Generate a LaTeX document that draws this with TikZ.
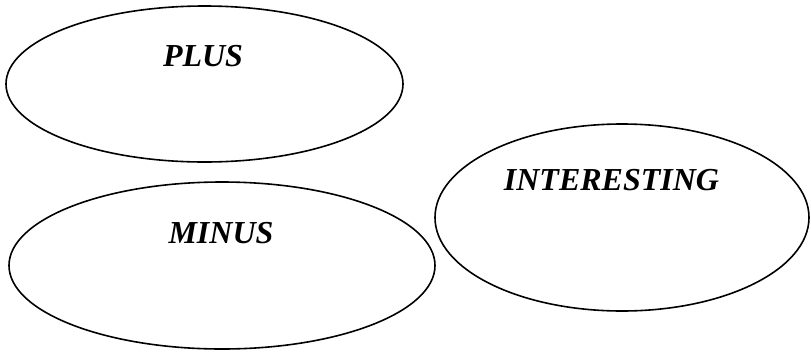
\documentclass[tikz,border=0pt]{standalone}
\usepackage{fontspec}
\setmainfont{Liberation Serif}
\usetikzlibrary{shapes.geometric}
\begin{document}
\begin{tikzpicture}
  [
    x=.75pt,
    y=-.75pt,
    oval/.style={
      ellipse,
      draw,
      line width=1.2pt,
      inner sep=0pt,
      outer sep=0pt
    },
    word/.style={
      font=\fontsize{24}{28}\selectfont\bfseries\itshape,
      inner sep=0pt,
      text depth=0pt
    }
  ]
  \useasboundingbox (0,0) rectangle (811,351);

  % ovals
  \node [oval, minimum width=297.75pt, minimum height=117pt] (plus) at (204.5,84) {};
  \node [oval, minimum width=319.5pt, minimum height=125.25pt] (minus) at (222,265.5) {};
  \node [oval, minimum width=280.5pt, minimum height=140.25pt] (interesting) at (622,217.5) {};

  % words
  \node [word] (plusword) at (203,56) {PLUS};
  \node [word] (minusword) at (221,233) {MINUS};
  \node [word] (interestingword) at (611.5,180) {INTERESTING};
\end{tikzpicture}
\end{document}
